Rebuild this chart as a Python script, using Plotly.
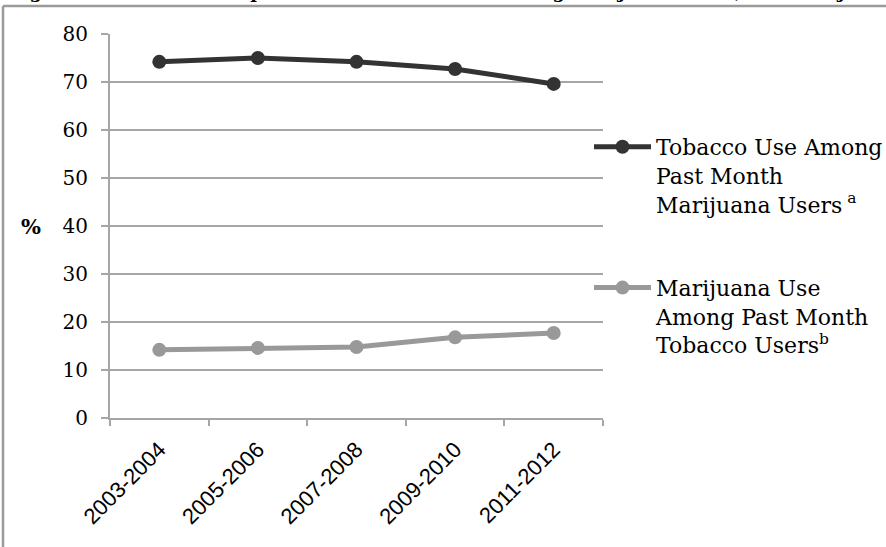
import plotly.graph_objects as go

# Survey periods (x categories)
periods = ["2003-2004", "2005-2006", "2007-2008", "2009-2010", "2011-2012"]

# Percent of past-month marijuana users who also used tobacco
tobacco_among_mj = [74.2, 75.0, 74.2, 72.7, 69.6]

# Percent of past-month tobacco users who also used marijuana
mj_among_tobacco = [14.2, 14.6, 14.8, 16.8, 17.7]

y_ticks = [0, 10, 20, 30, 40, 50, 60, 70, 80]

series_names = [
    "Tobacco Use Among<br>Past Month<br>Marijuana Users<sup> a</sup>",
    "Marijuana Use<br>Among Past Month<br>Tobacco Users<sup>b</sup>",
]

W, H = 886, 547
L, R, T, B = 110, 283, 34, 129
PW, PH = W - L - R, H - T - B


def px_x(px):
    return (px - L) / PW


def px_y(py):
    return (H - B - py) / PH


GRID = "#a6a6a6"
SERIF = "DejaVu Serif"

fig = go.Figure()
fig.add_trace(go.Scatter(
    x=periods, y=tobacco_among_mj, name=series_names[0],
    mode="lines+markers", legendgroup="g1",
    line=dict(color="#333333", width=5),
    marker=dict(color="#333333", size=14),
))
fig.add_trace(go.Scatter(
    x=periods, y=mj_among_tobacco, name=series_names[1],
    mode="lines+markers", legendgroup="g2",
    line=dict(color="#999999", width=5),
    marker=dict(color="#999999", size=14),
))

# Outer frame of the figure box
fig.add_shape(type="line", xref="paper", yref="paper",
              x0=px_x(3), x1=px_x(900), y0=px_y(6), y1=px_y(6),
              line=dict(color="#9a9a9a", width=2.5))
fig.add_shape(type="line", xref="paper", yref="paper",
              x0=px_x(3), x1=px_x(3), y0=px_y(6), y1=px_y(560),
              line=dict(color="#9a9a9a", width=2.5))

# Figure caption running along the top edge
fig.add_annotation(
    text="Figure 1. Prevalence of past month tobacco use among marijuana users, and marijuana use among tobacco users",
    xref="paper", yref="paper", x=px_x(8), y=px_y(4.5),
    xanchor="left", yanchor="bottom", showarrow=False,
    font=dict(family=SERIF, size=18, color="black", weight="bold"),
)

# Y-axis title
fig.add_annotation(
    text="<b>%</b>", xref="paper", yref="paper",
    x=px_x(31), y=px_y(226), xanchor="center", yanchor="middle",
    showarrow=False, font=dict(family=SERIF, size=21, color="black"),
)

fig.update_layout(
    width=W, height=H,
    margin=dict(l=L, r=R, t=T, b=B, pad=0, autoexpand=False),
    paper_bgcolor="white", plot_bgcolor="white",
    showlegend=True,
    legend=dict(
        x=px_x(589), y=px_y(126), xanchor="left", yanchor="top",
        font=dict(family=SERIF, size=22, color="black"),
        itemwidth=57, valign="top", traceorder="grouped",
        tracegroupgap=52, bgcolor="rgba(0,0,0,0)",
    ),
    xaxis=dict(
        type="category", range=[-0.5, 4.5], showgrid=False, showline=True,
        linecolor=GRID, linewidth=2, ticks="outside", tickson="boundaries",
        ticklen=6, tickwidth=2, tickcolor=GRID, tickangle=-45,
        tickfont=dict(family="Liberation Sans", size=22, color="black"),
        ticklabelstandoff=8,
    ),
    yaxis=dict(
        range=[0, 80], tickvals=y_ticks, showgrid=True, gridcolor=GRID,
        gridwidth=2, showline=True, linecolor=GRID, linewidth=2,
        ticks="outside", ticklen=7, tickwidth=2, tickcolor=GRID,
        tickfont=dict(family=SERIF, size=20, color="black"),
        ticklabelstandoff=9, zeroline=False,
    ),
)

fig.write_html("out.html")
